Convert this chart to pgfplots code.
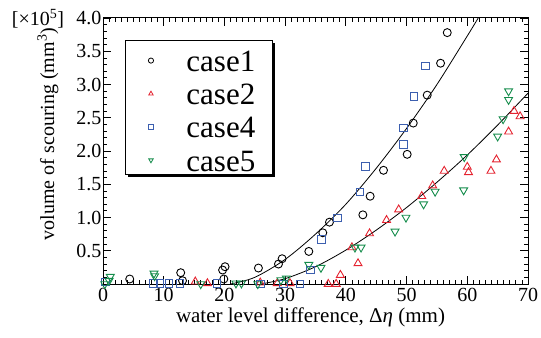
\documentclass[border=0pt]{standalone}
\usepackage{fontspec}
\setmainfont{Liberation Serif}
\usepackage{pgfplots}
\pgfplotsset{compat=1.18}
\usetikzlibrary{shadows}
\definecolor{cred}{RGB}{228,35,48}
\definecolor{cblue}{RGB}{60,95,175}
\definecolor{cgreen}{RGB}{20,140,75}
\begin{document}
\begin{tikzpicture}
\begin{axis}[
  name=ax,
  scale only axis,
  width=425pt, height=266pt,
  xmin=0, xmax=70, ymin=0, ymax=4,
  clip=false,
  xtick={0,10,...,70},
  ytick={0.5,1.0,1.5,2.0,2.5,3.0,3.5,4.0},
  minor xtick={0,1,...,70},
  minor ytick={0,0.1,...,4.0},
  tick align=inside,
  major tick length=8pt,
  minor tick length=4pt,
  axis line style={line width=1pt},
  every tick/.style={black, line width=0.8pt},
  /pgf/number format/assume math mode=true,
  ticklabel style={font=\fontsize{20}{20}\selectfont},
  yticklabel style={/pgf/number format/fixed,/pgf/number format/fixed zerofill,/pgf/number format/precision=1, inner xsep=1.5pt},
  xticklabel style={yshift=-3pt, inner ysep=1pt},
  xlabel={water level difference, Δ{\itshape η} (mm)},
  xlabel style={font=\fontsize{21}{21}\selectfont, at={(rel axis cs:0.5,0)}, anchor=base, yshift=-38pt, xshift=-5pt, inner ysep=1pt},
  legend cell align=left,
  legend style={at={(rel axis cs:0.0518,0.917)}, anchor=north west, draw=black, line width=1pt, fill=white,
    drop shadow={shadow xshift=2.5pt, shadow yshift=-2.5pt, fill=black, opacity=1},
    font=\fontsize{31}{31}\selectfont, inner xsep=2pt, inner ysep=1pt, row sep=1.2pt,
    nodes={text height=30pt, text depth=2pt, inner xsep=0pt, inner ysep=0pt, text width=84pt, align=left},
    /tikz/every odd column/.append style={column sep=22pt}},
  legend image code/.code={\path (0pt,0pt) (36pt,0pt); \draw[#1, mark size=2.6pt, line width=0.8pt] plot coordinates {(23pt,-3pt)};},
]
\addplot[only marks, mark=o, mark size=4pt, black, line width=0.9pt] coordinates {
(4.4,0.075) (12.8,0.17) (13.1,0.05) (19.7,0.21) (20.1,0.26) (19.9,0.075)
(25.6,0.24) (28.9,0.30) (29.5,0.38) (33.9,0.49) (36.2,0.77) (37.3,0.93)
(42.8,1.04) (44.0,1.32) (46.2,1.71) (50.1,1.95) (51.1,2.42) (53.4,2.84)
(55.6,3.32) (56.7,3.78)};
\addlegendentry{case1}
\addplot[only marks, mark=triangle, mark size=4.6pt, cred, line width=0.9pt] coordinates {
(15.2,0.035) (17.2,0.01) (25.9,0.02) (28.7,0.01) (30.8,0.01) (37.1,0.0)
(38.4,0.0) (39.1,0.135) (42.0,0.31) (41.0,0.55) (43.9,0.76) (46.7,0.96)
(48.7,1.12) (52.5,1.32) (54.3,1.48) (56.2,1.70) (60.0,1.76) (60.2,1.68)
(63.9,1.70) (64.8,1.87) (66.8,2.29) (67.7,2.60) (68.7,2.52)};
\addlegendentry{case2}
\addplot[only marks, mark=square, mark size=3.7pt, cblue, line width=0.9pt] coordinates {
(0.4,0.03) (8.3,0.01) (9.4,0.01) (10.9,0.01) (12.7,0.01) (18.8,0.01)
(25.9,0.0) (29.7,0.0) (32.4,0.0) (34.2,0.21) (36.0,0.67) (38.6,0.99)
(42.3,1.38) (43.2,1.77) (49.5,2.10) (49.5,2.35) (51.2,2.82) (53.1,3.28)};
\addlegendentry{case4}
\addplot[only marks, mark=triangle, mark options={rotate=180}, mark size=4.6pt, cgreen, line width=0.9pt] coordinates {
(0.3,0.0) (1.0,0.05) (1.2,0.11) (8.4,0.16) (8.5,0.12) (16.1,0.0)
(21.9,0.01) (22.8,0.01) (25.5,0.0) (29.3,0.06) (30.2,0.085) (33.9,0.29)
(35.9,0.245) (41.5,0.55) (42.5,0.55) (48.1,0.79) (49.9,1.0) (52.8,1.2)
(54.7,1.39) (59.4,1.41) (59.5,1.91) (65.0,2.22) (65.9,2.48) (66.8,2.77) (66.8,2.90)};
\addlegendentry{case5}
\addplot[black, line width=0.8pt, smooth, forget plot] coordinates {
(21,0) (25,0.10) (30,0.37) (35,0.75) (40,1.20) (45,1.74) (50,2.34) (55,3.00) (60,3.73) (61.8,4.0)};
\addplot[black, line width=0.8pt, smooth, forget plot] coordinates {
(26,0) (30,0.08) (35,0.26) (40,0.51) (45,0.81) (50,1.15) (55,1.53) (60,1.94) (65,2.39) (70,2.87)};
\node[font=\fontsize{20}{20}\selectfont, anchor=base] at ([xshift=-65pt, yshift=-8pt]rel axis cs:0,1) {[×10\textsuperscript{5}]};
\node[font=\fontsize{20}{20}\selectfont, rotate=90, anchor=center] at ([xshift=-55pt]rel axis cs:0,0.564) {volume of scouring (mm\textsuperscript{3})};
\end{axis}
\pgfresetboundingbox
\path ([xshift=-103pt,yshift=-53pt]ax.south west) rectangle ([xshift=13pt,yshift=18pt]ax.north east);
\end{tikzpicture}
\end{document}
